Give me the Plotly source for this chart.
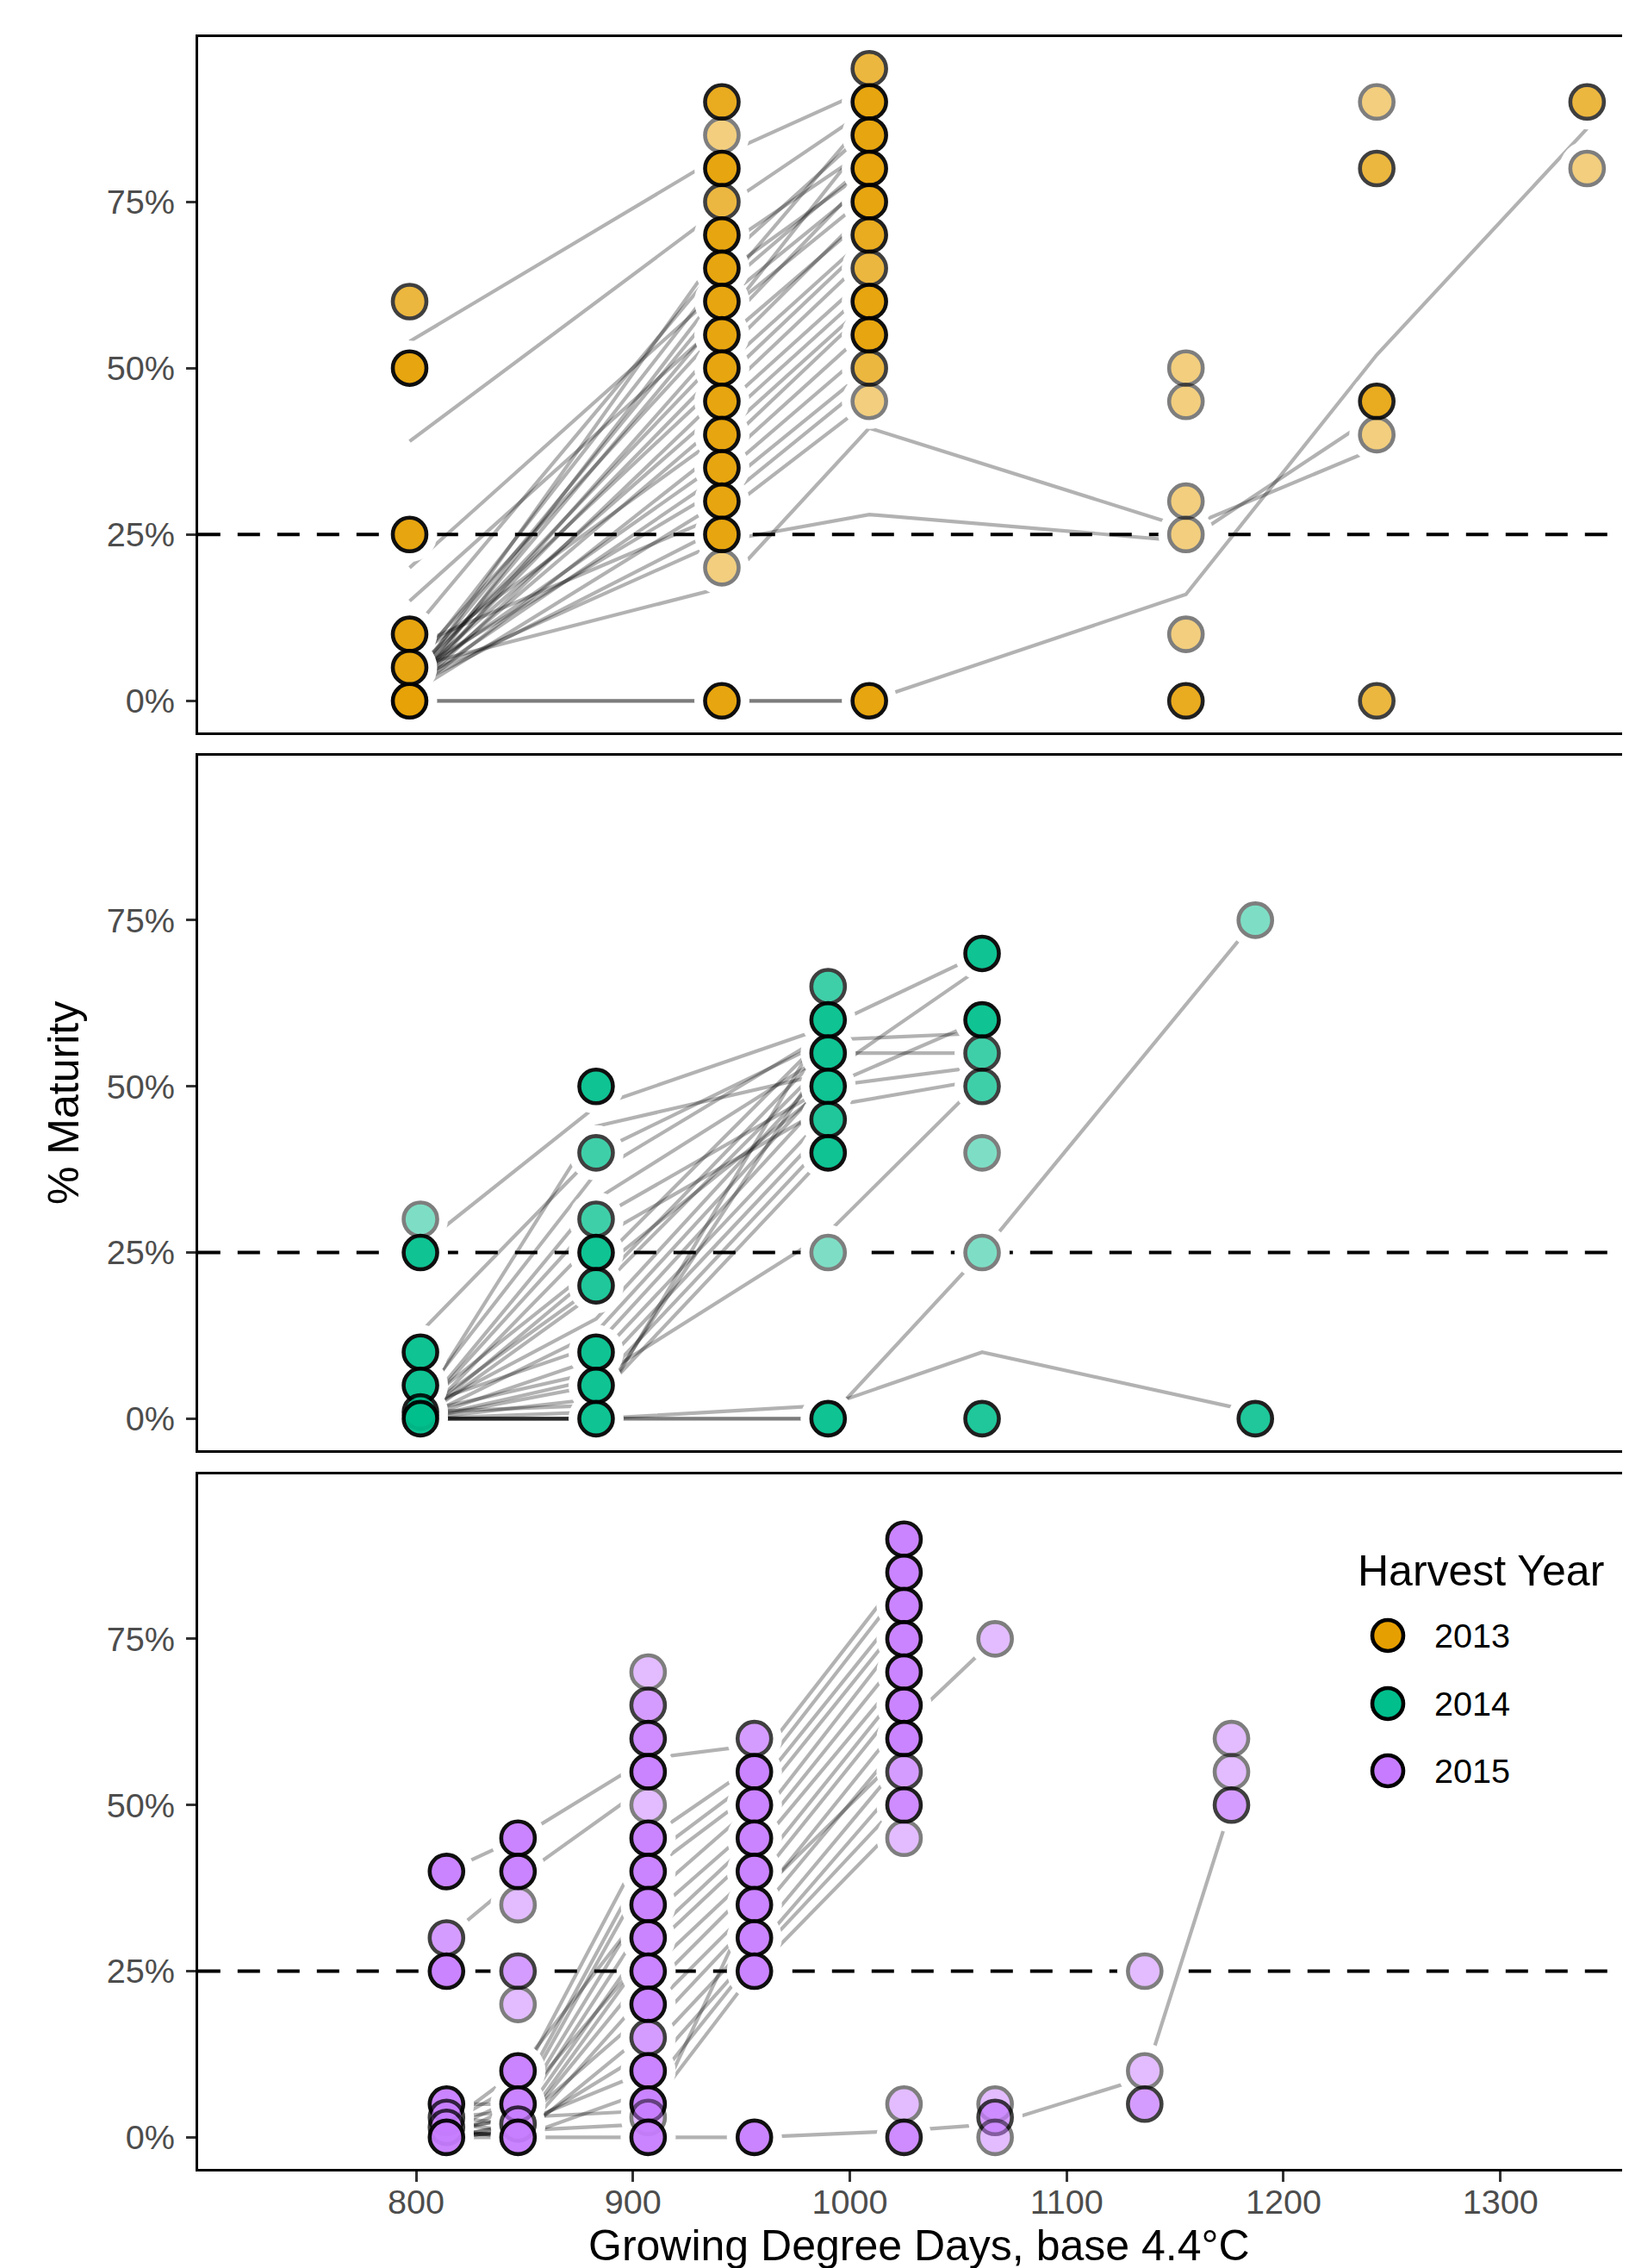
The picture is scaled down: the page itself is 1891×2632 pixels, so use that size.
import plotly.graph_objects as go

W, H = 1891, 2632

YEARS = ["2013", "2014", "2015"]
FILL = {"2013": "#E69F00", "2014": "#00BF8C", "2015": "#C77CFF"}

# sampling dates (growing degree days) for each harvest year
gdd_2013 = [797, 941, 1009, 1155, 1243, 1340]
gdd_2014 = [802, 883, 990, 1061, 1187]
gdd_2015 = [814, 847, 907, 956, 1025, 1067, 1136, 1176]

# % maturity values drawn as points, one list per sampling date
pts_y_2013 = [
    [60, 50, 25, 10, 5, 0],
    [90, 85, 80, 75, 70, 65, 60, 55, 50, 45, 40, 35, 30, 25, 20, 0],
    [95, 90, 85, 80, 75, 70, 65, 60, 55, 50, 45, 0],
    [50, 45, 30, 25, 10, 0],
    [90, 80, 45, 40, 0],
    [90, 80],
]
# number of overlapping observations at each point
pts_n_2013 = [
    [2, 4, 4, 4, 4, 5],
    [3, 1, 4, 2, 4, 4, 4, 4, 4, 4, 4, 4, 4, 4, 1, 4],
    [2, 4, 4, 4, 4, 3, 2, 4, 4, 2, 1, 4],
    [1, 1, 1, 1, 1, 3],
    [1, 2, 3, 1, 2],
    [2, 1],
]

pts_y_2014 = [
    [30, 25, 10, 5, 1, 0],
    [50, 40, 30, 25, 20, 10, 5, 0],
    [65, 60, 55, 50, 45, 40, 25, 0],
    [70, 60, 55, 50, 40, 25, 0],
    [75, 0],
]
pts_n_2014 = [
    [1, 4, 4, 4, 3, 4],
    [4, 2, 2, 4, 3, 4, 4, 4],
    [2, 4, 4, 4, 3, 4, 1, 4],
    [4, 4, 2, 2, 1, 1, 3],
    [1, 3],
]

pts_y_2015 = [
    [40, 30, 25, 5, 3, 1.5, 0],
    [45, 40, 35, 25, 20, 10, 5, 2, 0],
    [70, 65, 60, 55, 50, 45, 40, 35, 30, 25, 20, 15, 10, 5, 3, 0],
    [60, 55, 50, 45, 40, 35, 30, 25, 0],
    [90, 85, 80, 75, 70, 65, 60, 55, 50, 45, 5, 0],
    [75, 5, 3, 0],
    [25, 10, 5],
    [60, 55, 50],
]
pts_n_2015 = [
    [4, 2, 4, 4, 2, 2, 4],
    [4, 4, 1, 2, 1, 4, 4, 2, 4],
    [1, 2, 3, 4, 1, 4, 4, 4, 4, 4, 4, 2, 4, 4, 1, 4],
    [2, 4, 4, 4, 4, 4, 4, 4, 4],
    [4, 4, 4, 4, 4, 4, 4, 2, 3, 1, 1, 3],
    [1, 1, 2, 1],
    [1, 1, 2],
    [1, 1, 2],
]

# individual trajectories (% maturity at each sampling date, None = not sampled)
lines_2013 = [
    [54, 82, 92, None, None, None],
    [39, 74, 89, None, None, None],
    [20, 62, 88, None, None, None],
    [15, 57, 85, None, None, None],
    [10, 66, 86, None, None, None],
    [2, 68, 83, None, None, None],
    [4, 64, 80, None, None, None],
    [1, 62, 81, None, None, None],
    [3, 60, 78, None, None, None],
    [2, 58, 76, None, None, None],
    [5, 56, 79, None, None, None],
    [1, 54, 73, None, None, None],
    [3, 52, 74, None, None, None],
    [2, 50, 70, None, None, None],
    [4, 48, 69, None, None, None],
    [1, 46, 67, None, None, None],
    [3, 44, 64, None, None, None],
    [2, 42, 62, None, None, None],
    [6, 40, 60, None, None, None],
    [1, 38, 59, None, None, None],
    [3, 36, 56, None, None, None],
    [2, 34, 53, None, None, None],
    [4, 32, 50, None, None, None],
    [1, 30, 48, None, None, None],
    [8, 28, 45, None, None, None],
    [2, 26, None, None, None, None],
    [3, 24, 28, 24, 43, None],
    [5, 17, 41, 26, 38, None],
    [0, 0, 0, 16, 52, 86],
    [0, 0, 0, None, None, None],
]

lines_2014 = [
    [26, 47, 59, 70, None],
    [13, 40, 57, 58, None],
    [3, 37, 58, None, None],
    [2, 44, 52, 68, None],
    [1, 33, 55, 55, None],
    [1, 30, 50, 53, None],
    [0, 27, 47, 51, None],
    [2, 23, 58, None, None],
    [1, 20, 56, None, None],
    [0, 19, 54, None, None],
    [1, 15, 53, None, None],
    [0, 13, 51, None, None],
    [2, 11, 49, None, None],
    [0, 9, 46, None, None],
    [1, 7, 44, None, None],
    [0, 5, 42, None, None],
    [0, 6, 28, 51, None],
    [0, 3, 40, None, None],
    [1, 2, 55, None, None],
    [0, 1, 60, None, None],
    [0, 22, 50, 60, None],
    [0, 0, 0, 25, 75],
    [0, 0, 2, 10, 1],
    [0, 0, 0, None, None],
    [0, 0, None, None, None],
    [0, 0, None, None, None],
]

lines_2015 = [
    [40, 45, 57, 59, None, None, None, None],
    [30, 39, 53, None, None, None, None, None],
    [2, 8, 45, 56, 85, None, None, None],
    [1, 6, 42, 54, 83, None, None, None],
    [0, 5, 40, 52, 80, None, None, None],
    [3, 4, 36, 50, 78, None, None, None],
    [1, 3, 33, 47, 76, None, None, None],
    [0, 2, 30, 45, 73, None, None, None],
    [2, 1, 28, 43, 70, None, None, None],
    [0, 1, 25, 40, 68, None, None, None],
    [1, 0, 22, 38, 66, None, None, None],
    [0, 2, 19, 35, 63, None, None, None],
    [1, 0, 16, 33, 60, None, None, None],
    [0, 1, 13, 30, 57, None, None, None],
    [3, 2, 10, 28, 54, None, None, None],
    [0, 0, 7, 27, 51, None, None, None],
    [1, 3, 4, 25, 48, None, None, None],
    [0, 1, 2, 36, 58, None, None, None],
    [2, 10, 35, None, None, None, None, None],
    [5, 5, 28, None, None, None, None, None],
    [None, 0, 0, 0, 1, 2, 9, 50],
    [None, None, None, None, 62, 75, None, None],
]

y_ticks = [0, 25, 50, 75]
y_ticktext = ["0%", "25%", "50%", "75%"]
x_ticks = [800, 900, 1000, 1100, 1200, 1300]
threshold = 25

FONT = "Liberation Sans, Arial, sans-serif"
TICK_SIZE = 39.6
TITLE_SIZE = 50

fig = go.Figure()

panels = [
    ("2013", gdd_2013, pts_y_2013, pts_n_2013, lines_2013, "x", "y"),
    ("2014", gdd_2014, pts_y_2014, pts_n_2014, lines_2014, "x2", "y2"),
    ("2015", gdd_2015, pts_y_2015, pts_n_2015, lines_2015, "x3", "y3"),
]

for year, gdd, py, pn, lines, xa, ya in panels:
    for ind in lines:
        xs = [g for g, v in zip(gdd, ind) if v is not None]
        ys = [v for v in ind if v is not None]
        fig.add_trace(go.Scatter(
            x=xs, y=ys, mode="lines",
            line=dict(color="rgba(0,0,0,0.3)", width=4.2),
            xaxis=xa, yaxis=ya, hoverinfo="skip", showlegend=False))
    px, pv, op = [], [], []
    for g, col_y, col_n in zip(gdd, py, pn):
        for v, n in zip(col_y, col_n):
            px.append(g)
            pv.append(v)
            op.append(1 - 0.5 ** n)
    fig.add_trace(go.Scatter(
        x=px, y=pv, mode="markers",
        marker=dict(size=64, color="white", line=dict(width=0)),
        xaxis=xa, yaxis=ya, hoverinfo="skip", showlegend=False))
    fig.add_trace(go.Scatter(
        x=px, y=pv, mode="markers",
        marker=dict(size=39, color=FILL[year], opacity=op,
                    line=dict(color="black", width=4.6)),
        xaxis=xa, yaxis=ya, name=year, showlegend=False))

# layout geometry (pixels)
plot_left = 221.8
panel_px = [(35, 842), (869, 1675), (1703, 2509)]
xdom = [plot_left / W, 1.0]
ydoms = [[1 - b / H, 1 - t / H] for t, b in panel_px]

xr = [699.4, 1362.5]
yr = [-4.75, 99.75]

for i, (key_x, key_y) in enumerate([("xaxis", "yaxis"), ("xaxis2", "yaxis2"), ("xaxis3", "yaxis3")]):
    bottom = (i == 2)
    xa = dict(
        domain=xdom, range=xr, anchor=["y", "y2", "y3"][i],
        showgrid=False, zeroline=False, showline=True, linecolor="black",
        linewidth=2.5, mirror=True,
        tickvals=x_ticks,
        showticklabels=bottom, ticks="outside" if bottom else "",
        ticklen=12, tickwidth=2.5, tickcolor="#333333",
        tickfont=dict(family=FONT, size=TICK_SIZE, color="#4D4D4D"),
        ticklabelstandoff=-10,
    )
    if i > 0:
        xa["matches"] = "x"
    ya = dict(
        domain=ydoms[i], range=yr, anchor=["x", "x2", "x3"][i],
        showgrid=False, zeroline=False, showline=True, linecolor="black",
        linewidth=3, tickvals=y_ticks, ticktext=y_ticktext,
        ticks="outside", ticklen=11, tickwidth=2.5, tickcolor="#333333",
        tickfont=dict(family=FONT, size=TICK_SIZE, color="#4D4D4D"),
        ticklabelstandoff=5,
    )
    fig.layout[key_x] = xa
    fig.layout[key_y] = ya

shapes = []
for xa, ya in [("x", "y"), ("x2", "y2"), ("x3", "y3")]:
    shapes.append(dict(
        type="line", xref=f"{xa} domain", yref=ya, x0=0, x1=1,
        y0=threshold, y1=threshold, layer="below",
        line=dict(color="black", width=4, dash="26px,20px")))

# legend (manual, to match symbol size and spacing)
leg_x_sym = 1603
leg_x_txt = 1655
leg_y = [1890, 1969, 2047]
r = 18
for yr_lab, yc in zip(YEARS, leg_y):
    shapes.append(dict(
        type="circle", xref="paper", yref="paper",
        x0=(leg_x_sym - r) / W, x1=(leg_x_sym + r) / W,
        y0=1 - (yc + r) / H, y1=1 - (yc - r) / H,
        fillcolor=FILL[yr_lab], line=dict(color="black", width=4.6)))

annotations = [
    dict(text="% Maturity", x=66 / W, y=1 - 1272 / H, xref="paper", yref="paper",
         textangle=-90, showarrow=False, xanchor="center", yanchor="middle",
         font=dict(family=FONT, size=TITLE_SIZE, color="black")),
    dict(text="Growing Degree Days, base 4.4°C", x=1059 / W, y=1 - 2598 / H,
         xref="paper", yref="paper", showarrow=False, xanchor="center", yanchor="middle",
         font=dict(family=FONT, size=TITLE_SIZE, color="black")),
    dict(text="Harvest Year", x=1566 / W, y=1 - 1815 / H, xref="paper", yref="paper",
         showarrow=False, xanchor="left", yanchor="middle",
         font=dict(family=FONT, size=TITLE_SIZE, color="black")),
]
for yr_lab, yc in zip(YEARS, leg_y):
    annotations.append(dict(
        text=yr_lab, x=leg_x_txt / W, y=1 - yc / H, xref="paper", yref="paper",
        showarrow=False, xanchor="left", yanchor="middle",
        font=dict(family=FONT, size=TICK_SIZE, color="black")))

fig.update_layout(
    width=W, height=H,
    margin=dict(l=0, r=0, t=0, b=0, pad=0, autoexpand=False),
    paper_bgcolor="white", plot_bgcolor="white",
    showlegend=False,
    shapes=shapes, annotations=annotations,
    font=dict(family=FONT),
)

fig.write_html("out.html")
